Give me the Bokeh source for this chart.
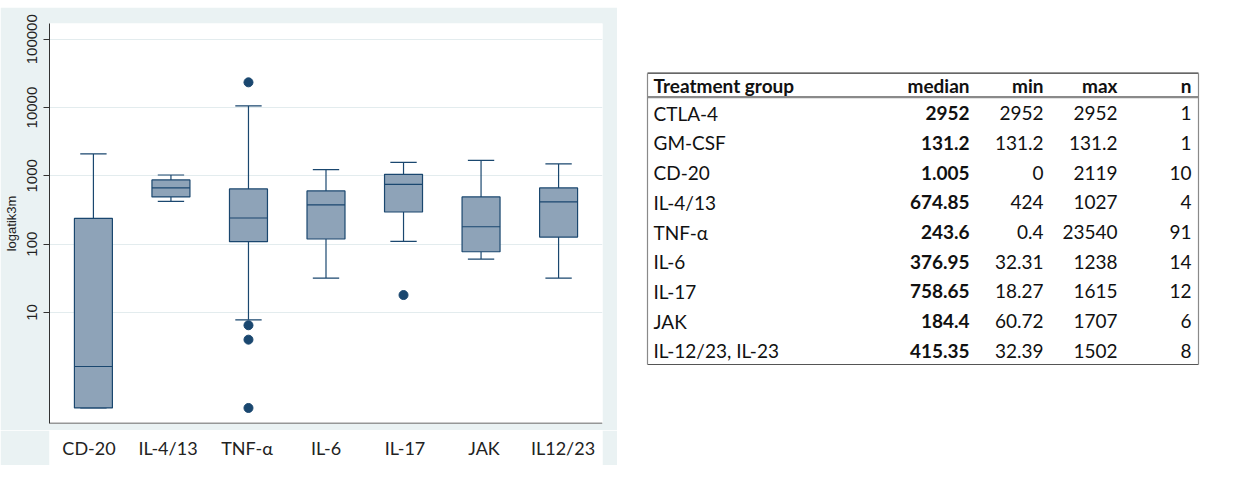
from bokeh.plotting import figure
from bokeh.models import FactorRange, Range1d, FixedTicker, PrintfTickFormatter, Span, Spacer
from bokeh.layouts import row, column
from bokeh.embed import file_html
from bokeh.resources import INLINE
from bokeh.core.properties import value

# ---------------- data ----------------
categories = ["CD-20", "IL-4/13", "TNF-α", "IL-6", "IL-17", "JAK", "IL12/23"]
q1 = [0.40, 491, 108.6, 119, 296, 77.5, 127]
median = [1.62, 665, 241.6, 375, 750, 180, 415]
q3 = [238, 871, 643, 601, 1052, 491, 665]
lower_whisker = [0.40, 423, 7.8, 31.9, 109.7, 60.6, 31.9]
upper_whisker = [2094, 1030, 10570, 1233, 1577, 1687, 1494]
outlier_cat = ["TNF-α", "TNF-α", "TNF-α", "TNF-α", "IL-17"]
outlier_val = [23400, 6.5, 4.0, 0.40, 18.0]
y_ticks = [10, 100, 1000, 10000, 100000]
y_min, y_max = 0.237, 170000

tbl_header = ["Treatment group", "median", "min", "max", "n"]
tbl_groups = ["CTLA-4", "GM-CSF", "CD-20", "IL-4/13", "TNF-α", "IL-6", "IL-17", "JAK", "IL-12/23, IL-23"]
tbl_median = ["2952", "131.2", "1.005", "674.85", "243.6", "376.95", "758.65", "184.4", "415.35"]
tbl_min = ["2952", "131.2", "0", "424", "0.4", "32.31", "18.27", "60.72", "32.39"]
tbl_max = ["2952", "131.2", "2119", "1027", "23540", "1238", "1615", "1707", "1502"]
tbl_n = ["1", "1", "10", "4", "91", "14", "12", "6", "8"]

# ---------------- styles ----------------
GREY = "#EAF2F3"
NAVY = "#1A476F"
BOXFILL = "#8EA3B8"
LABEL_FONT = value("Lato")

# ---------------- box plot ----------------
p = figure(x_range=FactorRange(*categories, range_padding=0.019, range_padding_units="percent"),
           y_axis_type="log", y_range=Range1d(y_min, y_max),
           width=617, height=423, output_backend="svg", toolbar_location=None,
           x_axis_location=None,
           min_border_left=49, min_border_top=16, min_border_bottom=7, min_border_right=15,
           border_fill_color=GREY, background_fill_color="white", outline_line_color=None)

p.segment(x0=categories, y0=q3, x1=categories, y1=upper_whisker, line_color=NAVY, line_width=1.2)
p.segment(x0=categories, y0=q1, x1=categories, y1=lower_whisker, line_color=NAVY, line_width=1.2)
p.vbar(x=categories, bottom=upper_whisker, top=upper_whisker, width=0.34,
       fill_color=None, line_color=NAVY, line_width=1.2)
p.vbar(x=categories, bottom=lower_whisker, top=lower_whisker, width=0.34,
       fill_color=None, line_color=NAVY, line_width=1.2)
p.vbar(x=categories, bottom=q1, top=q3, width=0.49, fill_color=BOXFILL,
       line_color=NAVY, line_width=1.2)
p.vbar(x=categories, bottom=median, top=median, width=0.49, fill_color=None,
       line_color=NAVY, line_width=1.2)
p.scatter(x=outlier_cat, y=outlier_val, size=9, fill_color=NAVY, line_color=NAVY)

# bottom axis line
p.add_layout(Span(location=y_min, dimension="width", line_color="#333333", line_width=1.5))

p.yaxis.ticker = FixedTicker(ticks=y_ticks)
p.yaxis.formatter = PrintfTickFormatter(format="%d")
p.yaxis.major_label_orientation = "vertical"
p.yaxis.major_label_text_font = "Liberation Sans"
p.yaxis.major_label_text_font_size = "15px"
p.yaxis.major_label_text_color = "#222222"
p.yaxis.major_label_standoff = 6
p.yaxis.axis_label = "logatik3m"
p.yaxis.axis_label_text_font = "Liberation Sans"
p.yaxis.axis_label_text_font_style = "normal"
p.yaxis.axis_label_text_font_size = "13px"
p.yaxis.axis_label_text_color = "#222222"
p.yaxis.axis_label_standoff = 6
p.yaxis.major_tick_out = 6
p.yaxis.major_tick_in = 0
p.yaxis.minor_tick_line_color = None
p.yaxis.axis_line_color = "#333333"
p.yaxis.major_tick_line_color = "#333333"

p.xgrid.grid_line_color = None
p.ygrid.grid_line_color = "#E3ECEE"

# ---------------- category labels strip ----------------
lab = figure(x_range=FactorRange(*categories), y_range=Range1d(0, 1),
             width=617, height=35, output_backend="svg", toolbar_location=None,
             min_border_left=26, min_border_right=1, min_border_top=0, min_border_bottom=0,
             border_fill_color=GREY, background_fill_color="white", outline_line_color=None,
             x_axis_location=None, y_axis_location=None)
lab.xgrid.grid_line_color = None
lab.ygrid.grid_line_color = None
lab.text(x=categories, y=[0.5] * len(categories), text=categories,
         text_font=LABEL_FONT, text_font_size="18px", text_color="#222222",
         text_align="center", text_baseline="middle")

left = column(Spacer(width=617, height=7), p, lab, spacing=0)

# ---------------- table ----------------
X0 = 617                      # page x of table figure's left edge
TW, TH = 1258 - X0, 486
ROW0, PITCH = 112.7, 29.7     # page y of first row centre, row pitch
y_top = (0 - ROW0) / PITCH
y_bot = (TH - ROW0) / PITCH
t = figure(x_range=Range1d(X0, X0 + TW), y_range=Range1d(y_bot, y_top),
           width=TW, height=TH, output_backend="svg", toolbar_location=None,
           min_border=0, border_fill_color="white", background_fill_color="white",
           outline_line_color=None, x_axis_location=None, y_axis_location=None)
t.xgrid.grid_line_color = None
t.ygrid.grid_line_color = None

name_x = 653
col_right = [969, 1043, 1117, 1191]
tab_l, tab_r = 647, 1198
line_top = (72.7 - ROW0) / PITCH
line_head = (96.7 - ROW0) / PITCH
line_bot = (364 - ROW0) / PITCH
head_y = (85 - ROW0) / PITCH

t.segment(x0=[tab_l], y0=[line_top], x1=[tab_r], y1=[line_top], line_color="#333333", line_width=1.2)
t.segment(x0=[tab_l], y0=[line_head], x1=[tab_r], y1=[line_head], line_color="#8A8A8A", line_width=2.2)
t.segment(x0=[tab_l], y0=[line_bot], x1=[tab_r], y1=[line_bot], line_color="#555555", line_width=1.2)
t.segment(x0=[tab_l, tab_r], y0=[line_top, line_top], x1=[tab_l, tab_r], y1=[line_bot, line_bot],
          line_color="#8A8A8A", line_width=1.2)

FS = "19px"
rows = list(range(len(tbl_groups)))
t.text(x=[name_x], y=[head_y], text=[tbl_header[0]], text_font=LABEL_FONT, text_font_size=FS,
       text_font_style="bold", text_align="left", text_baseline="middle", text_color="#111111")
t.text(x=col_right, y=[head_y] * 4, text=tbl_header[1:], text_font=LABEL_FONT, text_font_size=FS,
       text_font_style="bold", text_align="right", text_baseline="middle", text_color="#111111")
t.text(x=[name_x] * len(rows), y=rows, text=tbl_groups, text_font=LABEL_FONT, text_font_size=FS,
       text_align="left", text_baseline="middle", text_color="#111111")
t.text(x=[col_right[0]] * len(rows), y=rows, text=tbl_median, text_font=LABEL_FONT, text_font_size=FS,
       text_font_style="bold", text_align="right", text_baseline="middle", text_color="#111111")
for cx, col in zip(col_right[1:], [tbl_min, tbl_max, tbl_n]):
    t.text(x=[cx] * len(rows), y=rows, text=col, text_font=LABEL_FONT, text_font_size=FS,
           text_align="right", text_baseline="middle", text_color="#111111")

layout = row(left, t, spacing=0)
open("out.html", "w").write(file_html(layout, INLINE))
